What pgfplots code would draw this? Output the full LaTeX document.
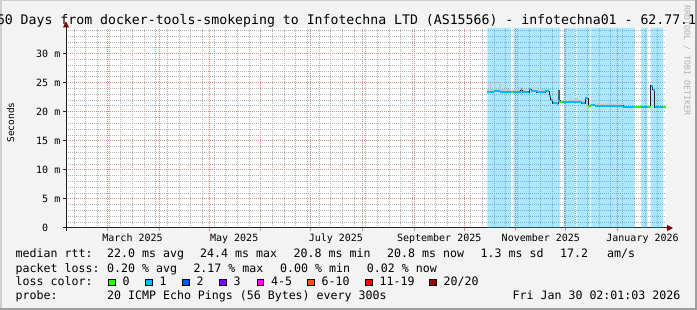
\documentclass[border=0pt]{standalone}
\usepackage{fontspec}
\setmainfont{DejaVu Sans Mono}
\usepackage{pgfplots}
\pgfplotsset{compat=1.18}
\usetikzlibrary{arrows.meta}
\definecolor{bgc}{HTML}{F3F3F3}
\definecolor{shadeA}{HTML}{CFCFCF}
\definecolor{shadeB}{HTML}{9E9E9E}
\definecolor{mgridc}{HTML}{E08888}
\definecolor{gridc}{HTML}{B0B0B0}
\definecolor{axisc}{HTML}{202020}
\definecolor{arrowc}{HTML}{7F0000}
\definecolor{loss0}{HTML}{26FF00}
\definecolor{loss1}{HTML}{00B8FF}
\definecolor{loss2}{HTML}{0059FF}
\definecolor{loss3}{HTML}{7E00FF}
\definecolor{loss4}{HTML}{FF00FF}
\definecolor{loss6}{HTML}{FF5500}
\definecolor{loss11}{HTML}{FF0000}
\definecolor{loss20}{HTML}{A10000}
\definecolor{smokec}{HTML}{C8C8C8}
\definecolor{smokedark}{HTML}{5A5A5A}
\definecolor{medc}{HTML}{202020}
\definecolor{wmc}{HTML}{B0B0B0}
\newcommand{\axf}{\fontsize{10bp}{12bp}\selectfont}
\newcommand{\legf}{\fontsize{11.6bp}{14bp}\selectfont}
\newcommand{\titf}{\fontsize{13.2bp}{16bp}\selectfont}
\newcommand{\wmf}{\fontsize{8.3bp}{10bp}\selectfont}
\newcommand{\ylf}{\fontsize{9.5bp}{11bp}\selectfont}
\begin{document}
\begin{tikzpicture}
\useasboundingbox (0,0) rectangle (697bp,310bp);
\fill[bgc] (0,0) rectangle (697bp,310bp);
\fill[shadeA] (0,0) rectangle (1.5bp,310bp);
\fill[shadeA] (0,308.5bp) rectangle (697bp,310bp);
\fill[shadeB] (695bp,0) rectangle (697bp,310bp);
\fill[shadeB] (0,0) rectangle (697bp,2bp);
\begin{axis}[
  at={(66bp,82bp)}, anchor=south west,
  scale only axis, width=600bp, height=200bp,
  xmin=0, xmax=360, ymin=0, ymax=34.42,
  axis lines=left,
  axis background/.style={fill=white},
  x axis line style={draw=axisc, line width=1bp, shorten <=-3bp, shorten >=-7bp, -{Triangle[length=6bp,width=6bp,color=arrowc]}},
  y axis line style={draw=axisc, line width=1bp, shorten <=-3bp, shorten >=-6.5bp, -{Triangle[length=6bp,width=6bp,color=arrowc]}},
  xtick={24.92,55.92,85.92,116.92,146.92,177.92,208.92,238.92,269.92,299.92,330.92},
  xticklabels={},
  minor xtick={4.92,11.92,...,354.92},
  extra x ticks={39.92,100.92,161.92,223.92,284.92,345.92},
  extra x tick labels={March 2025,May 2025,July 2025,September 2025,November 2025,January 2026},
  extra x tick style={major tick length=0pt, grid=none},
  ytick={0,5,...,30},
  yticklabels={{0\hphantom{xx}},5 m,10 m,15 m,20 m,25 m,30 m},
  minor ytick={1,2,3,4,6,7,8,9,11,12,13,14,16,17,18,19,21,22,23,24,26,27,28,29,31,32,33,34},
  grid=both,
  major grid style={mgridc, line width=1bp, dash pattern=on 1bp off 1bp},
  minor grid style={gridc, line width=1bp, dash pattern=on 1bp off 1bp},
  tick align=outside,
  major tick length=3bp, minor tick length=0pt,
  xtick style={mgridc, line width=1bp},
  ytick style={axisc, line width=1bp},
  ticklabel style={font=\axf, inner sep=0pt},
  xticklabel style={anchor=north, yshift=-5.6bp},
  yticklabel style={anchor=east, xshift=-2.5bp},
  unbounded coords=jump,
]
% loss background (periods with packet loss)
\addplot[draw=none, fill=loss1, fill opacity=0.33] coordinates {
(252.78,0)(252.78,34.42)(267.0,34.42)(267.0,0)
(268.4,0)(268.4,34.42)(296.4,34.42)(296.4,0)
(298.5,0)(298.5,34.42)(305.4,34.42)(305.4,0)
(306.3,0)(306.3,34.42)(314.4,34.42)(314.4,0)
(315.0,0)(315.0,34.42)(341.0,34.42)(341.0,0)
(345.0,0)(345.0,34.42)(349.0,34.42)(349.0,0)
(350.8,0)(350.8,34.42)(358.4,34.42)(358.4,0)};
% smoke (spread of the pings above the median)
\addplot[draw=none, fill=smokec] coordinates {
(252.78,23.9)(253.8,23.9)(253.8,24.95)(255.0,24.95)(255.0,24.0)(256.8,24.0)(256.8,24.9)(257.7,24.9)(257.7,24.0)(259.8,24.0)(259.8,25.0)(261.0,25.0)(261.0,23.95)(266.82,23.95)(266.82,23.7)(268.38,23.7)(268.38,23.9)(272.82,23.9)(272.82,24.0)(274.38,24.0)(274.38,23.8)(278.4,23.8)(278.4,24.2)(282.78,24.2)(282.78,23.9)(289.98,23.9)(289.98,23.0)(291.0,23.0)(291.0,22.4)(292.2,22.4)(292.2,21.8)(295.2,21.8)(295.2,22.0)(296.4,22.0)(296.4,21.95)(301.8,21.95)(301.8,22.2)(305.4,22.2)(305.4,22.45)(307.2,22.45)(307.2,22.1)(309.42,22.1)(309.42,22.0)(311.4,22.0)(311.4,22.45)(313.2,22.45)(313.2,21.4)(326.4,21.4)(326.4,21.3)(334.38,21.3)(334.38,21.05)(341.4,21.05)
(341.4,20.8)(334.38,20.8)(334.38,21.0)(317.4,21.0)(317.4,21.15)(314.82,21.15)(314.82,21.05)(313.2,21.05)(313.2,22.35)(311.4,22.35)(311.4,21.5)(309.42,21.5)(309.42,21.7)(296.4,21.7)(296.4,21.9)(295.2,21.9)(295.2,21.35)(294.42,21.35)(294.42,21.5)(292.02,21.5)(292.02,22.1)(290.82,22.1)(290.82,22.75)(289.98,22.75)(289.98,23.5)(287.4,23.5)(287.4,23.35)(282.42,23.35)(282.42,23.6)(279.0,23.6)(279.0,23.85)(277.8,23.85)(277.8,23.4)(273.78,23.4)(273.78,23.65)(272.82,23.65)(272.82,23.4)(268.38,23.4)(268.38,23.35)(260.4,23.35)(260.4,23.55)(256.8,23.55)(256.8,23.45)(252.78,23.45)};
% dark smoke
\addplot[smokedark, line width=2.2bp] coordinates {(295.8,21.9)(295.8,23.8)};
\addplot[smokedark!70, line width=1.6bp] coordinates {(273.3,23.4)(273.3,24.1)};
% median (dark line)
\addplot[const plot, medc, line width=1bp] coordinates {
(252.78,23.45)(256.8,23.55)(260.4,23.35)(266.82,23.35)(268.38,23.4)(272.82,23.65)(273.78,23.4)(277.8,23.85)(279.0,23.6)(282.42,23.35)(287.4,23.5)(289.98,22.75)(290.82,22.1)(292.02,21.5)(294.42,21.35)(295.2,21.9)(296.4,21.7)(309.42,21.5)(311.4,22.35)(313.2,21.05)(314.82,21.15)(317.4,21.0)(334.38,20.8)(350.82,24.5)(352.02,23.8)(353.22,20.8)(359.82,20.8)};
% median colored by loss: 1/20
\addplot[loss1, line width=2bp] coordinates {
(252.78,23.45)(256.8,23.45)(256.8,nan)
(256.8,23.55)(260.4,23.55)(260.4,nan)
(260.4,23.35)(266.82,23.35)(266.82,nan)
(268.38,23.4)(272.82,23.4)(272.82,nan)
(272.82,23.65)(273.78,23.65)(273.78,nan)
(273.78,23.4)(277.8,23.4)(277.8,nan)
(277.8,23.85)(279.0,23.85)(279.0,nan)
(279.0,23.6)(282.42,23.6)(282.42,nan)
(282.42,23.35)(287.4,23.35)(287.4,nan)
(287.4,23.5)(289.98,23.5)(289.98,nan)
(289.98,22.75)(290.82,22.75)(290.82,nan)
(290.82,22.1)(292.02,22.1)(292.02,nan)
(292.02,21.5)(294.42,21.5)(294.42,nan)
(294.42,21.35)(295.2,21.35)(295.2,nan)
(295.2,21.9)(296.4,21.9)(296.4,nan)
(298.38,21.7)(309.42,21.7)(309.42,nan)
(309.42,21.5)(311.4,21.5)(311.4,nan)
(311.4,22.35)(313.2,22.35)(313.2,nan)
(314.82,21.15)(317.4,21.15)(317.4,nan)
(317.4,21.0)(334.38,21.0)(334.38,nan)
(334.38,20.8)(341.4,20.8)(341.4,nan)
(345.0,20.8)(349.38,20.8)(349.38,nan)
(350.82,24.5)(352.02,24.5)(352.02,nan)
(352.02,23.8)(353.22,23.8)(353.22,nan)
(353.22,20.8)(358.38,20.8)};
% median colored by loss: 0
\addplot[loss0, line width=2bp] coordinates {
(266.82,23.35)(268.38,23.35)(268.38,nan)
(296.4,21.7)(298.38,21.7)(298.38,nan)
(313.2,21.05)(314.82,21.05)(314.82,nan)
(341.4,20.8)(345.0,20.8)(345.0,nan)
(349.38,20.8)(350.82,20.8)(350.82,nan)
(358.38,20.8)(359.82,20.8)};
\end{axis}
\begin{scope}
\clip (0,0) rectangle (697bp,310bp);
\node[anchor=base west, inner sep=0pt, font=\titf] at (-11.3bp,285.7bp) {360 Days from docker-tools-smokeping to Infotechna LTD (AS15566) - infotechna01 - 62.77.1};
\end{scope}
\node[rotate=-90, anchor=base west, inner sep=0pt, font=\wmf, text=wmc] at (684.3bp,305bp) {RRDTOOL / TOBI OETIKER};
\node[rotate=90, anchor=base, inner sep=0pt, font=\ylf] at (14bp,187.5bp) {Seconds};
\begin{scope}[every node/.style={anchor=base west, inner sep=0pt, font=\legf}]
\node at (15.5bp,52bp) {median rtt:};
\node at (107bp,52bp) {22.0 ms avg};
\node at (200bp,52bp) {24.4 ms max};
\node at (293.5bp,52bp) {20.8 ms min};
\node at (387bp,52bp) {20.8 ms now};
\node at (480.5bp,52bp) {1.3 ms sd};
\node at (560bp,52bp) {17.2};
\node at (607bp,52bp) {am/s};
\node at (15.5bp,38bp) {packet loss:};
\node at (107bp,38bp) {0.20 \% avg};
\node at (193.3bp,38bp) {2.17 \% max};
\node at (280bp,38bp) {0.00 \% min};
\node at (366.7bp,38bp) {0.02 \% now};
\node at (15.5bp,24.3bp) {loss color:};
\node at (122.5bp,24.3bp) {0};
\node at (159.5bp,24.3bp) {1};
\node at (196.5bp,24.3bp) {2};
\node at (233.5bp,24.3bp) {3};
\node at (271bp,24.3bp) {4-5};
\node at (321.5bp,24.3bp) {6-10};
\node at (379.5bp,24.3bp) {11-19};
\node at (443.5bp,24.3bp) {20/20};
\node at (15.5bp,10.7bp) {probe:};
\node at (107bp,10.7bp) {20 ICMP Echo Pings (56 Bytes) every 300s};
\node[anchor=base east] at (680.5bp,10.7bp) {Fri Jan 30 02:01:03 2026};
\end{scope}
\begin{scope}[line width=0.8bp]
\draw[fill=loss0] (108.3bp,24.4bp) rectangle ++(6.6bp,6.6bp);
\draw[fill=loss1] (145.3bp,24.4bp) rectangle ++(6.6bp,6.6bp);
\draw[fill=loss2] (182.3bp,24.4bp) rectangle ++(6.6bp,6.6bp);
\draw[fill=loss3] (219.3bp,24.4bp) rectangle ++(6.6bp,6.6bp);
\draw[fill=loss4] (257bp,24.4bp) rectangle ++(6.6bp,6.6bp);
\draw[fill=loss6] (307.6bp,24.4bp) rectangle ++(6.6bp,6.6bp);
\draw[fill=loss11] (365.3bp,24.4bp) rectangle ++(6.6bp,6.6bp);
\draw[fill=loss20] (429.5bp,24.4bp) rectangle ++(6.6bp,6.6bp);
\end{scope}
\end{tikzpicture}
\end{document}
